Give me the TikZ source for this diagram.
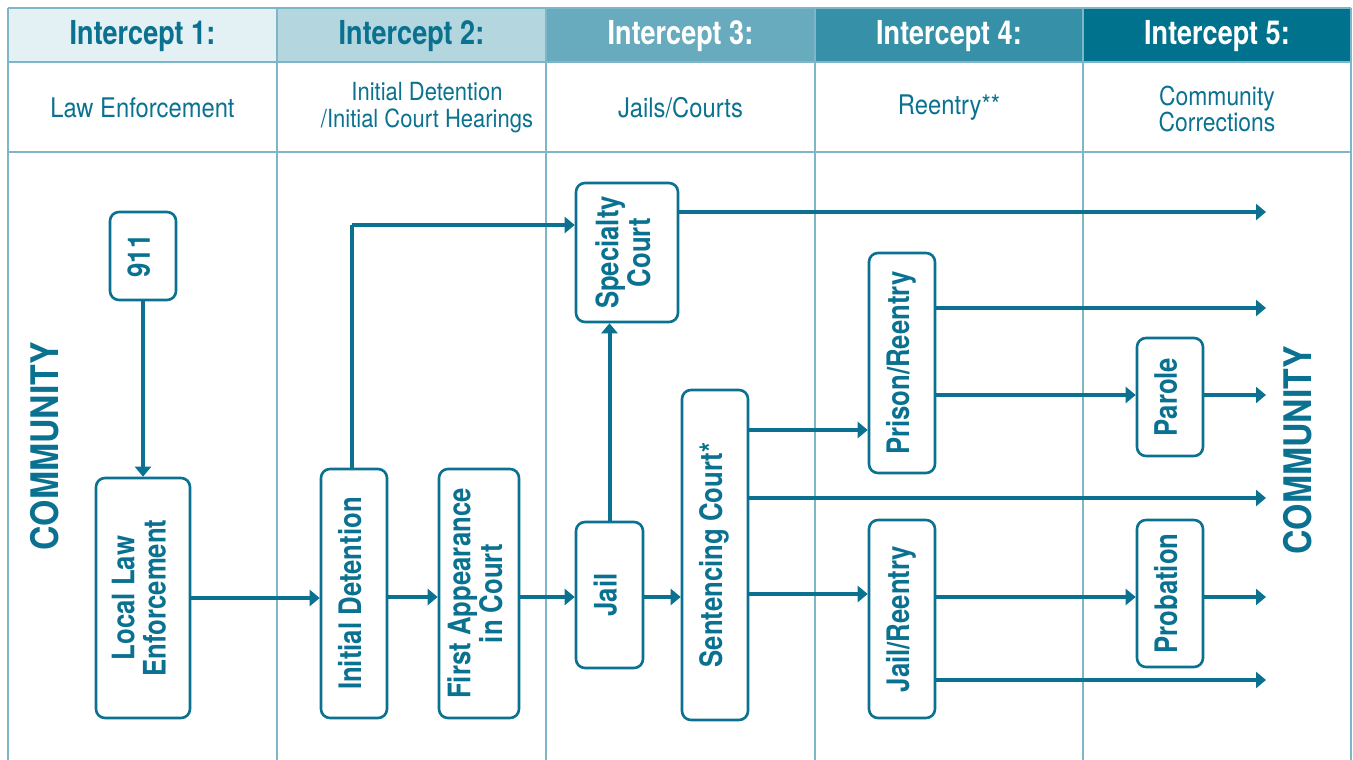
\documentclass[tikz,border=0pt]{standalone}
\usepackage{fontspec}
\setmainfont{TeX Gyre Heros}[FakeStretch=0.82]
\newfontfamily\headfont{TeX Gyre Heros}[FakeStretch=0.82]
\newfontfamily\subfont{TeX Gyre Heros}[FakeStretch=0.88]
\newfontfamily\boxfont{TeX Gyre Heros}[FakeStretch=0.83]
\newfontfamily\commfont{TeX Gyre Heros}[FakeStretch=0.89]
\usetikzlibrary{arrows.meta}
\definecolor{teal1}{HTML}{0A7290}
\definecolor{gridc}{HTML}{7DB6C8}
\definecolor{h1}{HTML}{E4F1F4}
\definecolor{h2}{HTML}{B3D6DF}
\definecolor{h3}{HTML}{68ABBE}
\definecolor{h4}{HTML}{3590A8}
\definecolor{h5}{HTML}{00728E}
\tikzset{
  stagebox/.style={draw=teal1, line width=2.6pt, rounded corners=9pt, fill=white, inner sep=0pt, text=teal1, font=\boxfont\fontsize{31}{29}\selectfont\bfseries, align=center},
  flow/.style={draw=teal1, line width=4pt, -{Triangle[length=10pt,width=16pt]}},
  flowplain/.style={draw=teal1, line width=4pt},
  gridline/.style={draw=gridc, line width=1.5pt},
  headtext/.style={font=\headfont\fontsize{33}{33}\selectfont\bfseries},
  subtext/.style={text=teal1, font=\subfont\fontsize{27}{27}\selectfont, align=center},
  commtext/.style={text=teal1, font=\commfont\fontsize{38}{38}\selectfont\bfseries, rotate=90}
}
\newcommand{\rt}[1]{\rotatebox{90}{\begin{tabular}{@{}c@{}}#1\end{tabular}}}
\begin{document}
\begin{tikzpicture}[x=1pt,y=-1pt]
\useasboundingbox (0,0) rectangle (1353,760);
% header fills
\fill[h1] (8,8) rectangle (277,62);
\fill[h2] (277,8) rectangle (546,62);
\fill[h3] (546,8) rectangle (815,62);
\fill[h4] (815,8) rectangle (1083,62);
\fill[h5] (1083,8) rectangle (1351,62);
% grid
\foreach \x in {8,277,546,815,1083,1351} \draw[gridline] (\x,8) -- (\x,760);
\foreach \y in {8,62,152} \draw[gridline] (8,\y) -- (1351,\y);
% header text
\node[headtext, text=teal1] (hd1) at (142.5,36) {Intercept 1:};
\node[headtext, text=teal1] (hd2) at (411.5,36) {Intercept 2:};
\node[headtext, text=white] (hd3) at (680.5,36) {Intercept 3:};
\node[headtext, text=white] (hd4) at (949,36) {Intercept 4:};
\node[headtext, text=white] (hd5) at (1217,36) {Intercept 5:};
\node[subtext] (sb1) at (142.5,108) {Law Enforcement};
\node[subtext, font=\subfont\fontsize{25}{27}\selectfont] (sb2) at (427,108) {Initial Detention\\/Initial Court Hearings};
\node[subtext] (sb3) at (680.5,108) {Jails/Courts};
\node[subtext] (sb4) at (949,108) {Reentry**};
\node[subtext, font=\subfont\fontsize{26}{25}\selectfont] (sb5) at (1217,109) {Community\\Corrections};
% community labels
\node[commtext] (commL) at (45,446) {COMMUNITY};
\node[commtext] (commR) at (1298,450) {COMMUNITY};
% boxes
\node[stagebox, minimum width=66pt, minimum height=88pt] (n911) at (143,256) {\rt{911}};
\node[stagebox, minimum width=94pt, minimum height=240pt] (lle) at (143,598) {\rt{Local Law\\Enforcement}};
\node[stagebox, minimum width=66pt, minimum height=249pt] (idt) at (354,593.5) {\rt{Initial Detention}};
\node[stagebox, minimum width=80pt, minimum height=249pt] (fac) at (479,593.5) {\rt{First Appearance\\in Court}};
\node[stagebox, minimum width=102pt, minimum height=139pt] (spc) at (627,252.5) {\rt{Specialty\\Court}};
\node[stagebox, minimum width=67pt, minimum height=146pt] (jail) at (609.5,595) {\rt{Jail}};
\node[stagebox, minimum width=66pt, minimum height=330pt] (sent) at (715,555) {\rt{Sentencing Court*}};
\node[stagebox, minimum width=66pt, minimum height=220pt] (pris) at (902,363) {\rt{Prison/Reentry}};
\node[stagebox, minimum width=66pt, minimum height=198pt] (jre) at (902,619) {\rt{Jail/Reentry}};
\node[stagebox, minimum width=66pt, minimum height=118pt] (par) at (1170,397) {\rt{Parole}};
\node[stagebox, minimum width=66pt, minimum height=147pt] (prob) at (1170,593.5) {\rt{Probation}};
% free ends
\coordinate (o1) at (1266,212);
\coordinate (o2) at (1266,308);
\coordinate (o3) at (1266,395);
\coordinate (o4) at (1266,498);
\coordinate (o5) at (1266,597);
\coordinate (o6) at (1266,680);
\coordinate (bend) at (352,225);
% connectors
\draw[flow] (n911.south) -- (lle.north);
\draw[flow] (lle.east |- 0,598) -- (idt.west |- 0,598);
\draw[flowplain] (idt.north -| 352,0) -- (bend);
\draw[flow] (bend) -- (spc.west |- bend);
\draw[flow] (idt.east |- 0,597) -- (fac.west |- 0,597);
\draw[flow] (fac.east |- 0,597) -- (jail.west |- 0,597);
\draw[flow] (jail.north) -- (spc.south -| jail.north);
\draw[flow] (jail.east |- 0,597) -- (sent.west |- 0,597);
\draw[flow] (spc.east |- o1) -- (o1);
\draw[flow] (pris.east |- o2) -- (o2);
\draw[flow] (pris.east |- o3) -- (par.west |- o3);
\draw[flow] (par.east |- o3) -- (o3);
\draw[flow] (sent.east |- 0,430) -- (pris.west |- 0,430);
\draw[flow] (sent.east |- o4) -- (o4);
\draw[flow] (sent.east |- 0,594) -- (jre.west |- 0,594);
\draw[flow] (jre.east |- o5) -- (prob.west |- o5);
\draw[flow] (prob.east |- o5) -- (o5);
\draw[flow] (jre.east |- o6) -- (o6);
\end{tikzpicture}
\end{document}
